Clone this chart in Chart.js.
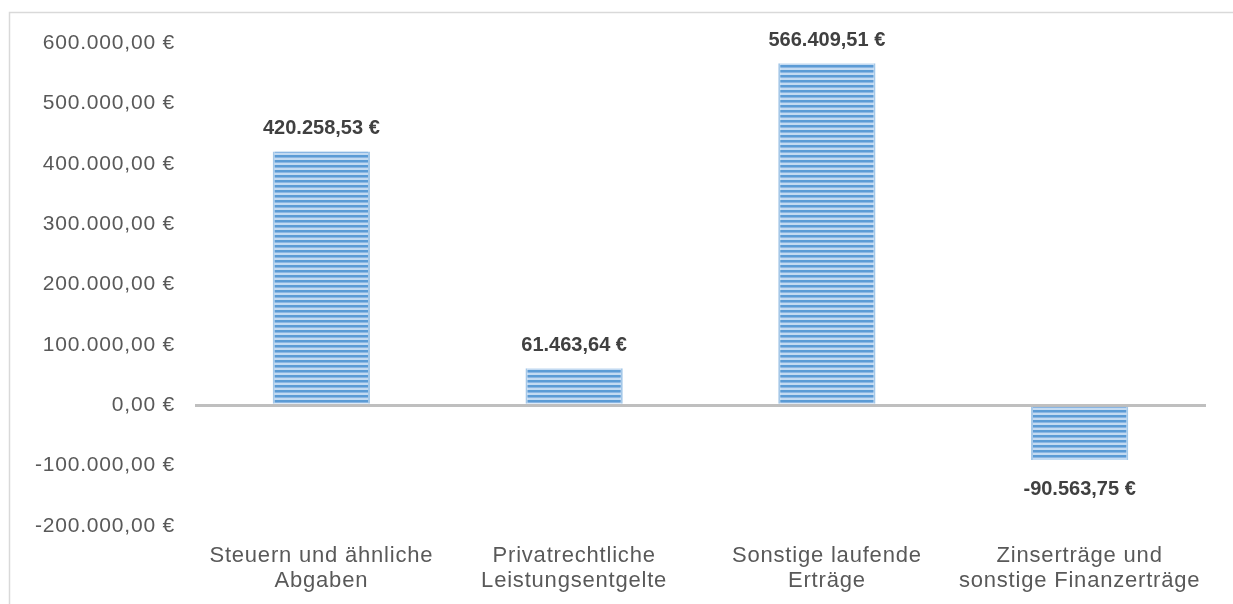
<!DOCTYPE html>
<html>
<head>
<meta charset="utf-8">
<script src="https://cdn.jsdelivr.net/npm/chart.js@4.4.0/dist/chart.umd.min.js"></script>
<style>
  body { margin: 0; background: #fff; }
  canvas { display: block; }
</style>
</head>
<body>
<canvas id="ertraegeChart" width="1233" height="604"></canvas>
<script>
"use strict";
var categories = [
  ["Steuern und ähnliche", "Abgaben"],
  ["Privatrechtliche", "Leistungsentgelte"],
  ["Sonstige laufende", "Erträge"],
  ["Zinserträge und", "sonstige Finanzerträge"]
];
var amounts = [420258.53, 61463.64, 566409.51, -90563.75];
var yMin = -200000, yMax = 600000, yStep = 100000;

function euro(v) {
  var neg = v < 0;
  var parts = Math.abs(v).toFixed(2).split(".");
  var whole = parts[0].replace(/\B(?=(\d{3})+(?!\d))/g, ".");
  return (neg ? "-" : "") + whole + "," + parts[1] + " €";
}

function stripePattern(ctx) {
  var c = document.createElement("canvas");
  c.width = 8; c.height = 5;
  var p = c.getContext("2d");
  p.fillStyle = "#c3daf1";
  p.fillRect(0, 0, 8, 5);
  p.fillStyle = "#5b9bd5";
  p.fillRect(0, 0, 8, 2);
  p.fillStyle = "#8ab6e3";
  p.fillRect(0, 2, 8, 1);
  return ctx.createPattern(c, "repeat");
}

// slightly wider spacing of the regular text, as in the original
var spacing = {
  id: "spacing",
  beforeLayout: function(chart) { chart.ctx.letterSpacing = "0.8px"; },
  beforeDraw: function(chart) { chart.ctx.letterSpacing = "0.8px"; }
};

var frame = {
  id: "frame",
  beforeDraw: function(chart) {
    var c = chart.ctx;
    c.save();
    c.strokeStyle = "#d9d9d9";
    c.lineWidth = 1.5;
    c.beginPath();
    c.moveTo(9.5, chart.height);
    c.lineTo(9.5, 12.5);
    c.lineTo(chart.width, 12.5);
    c.stroke();
    c.restore();
  }
};

var valueLabels = {
  id: "valueLabels",
  afterDatasetsDraw: function(chart) {
    var c = chart.ctx;
    var meta = chart.getDatasetMeta(0);
    c.save();
    c.letterSpacing = "0px";
    c.font = "bold 20px 'Liberation Sans', Arial, sans-serif";
    c.fillStyle = "#404040";
    c.textAlign = "center";
    c.textBaseline = "middle";
    meta.data.forEach(function(bar, i) {
      var v = amounts[i];
      var y = v >= 0 ? bar.y - 23 : bar.y + 30;
      c.fillText(euro(v), bar.x, y);
    });
    c.restore();
  }
};

var canvas = document.getElementById("ertraegeChart");
var ctx = canvas.getContext("2d");

new Chart(ctx, {
  type: "bar",
  data: {
    labels: categories,
    datasets: [{
      data: amounts,
      backgroundColor: stripePattern(ctx),
      borderColor: "rgba(91,155,213,0.55)",
      borderWidth: { left: 2, right: 2, top: 0, bottom: 0 },
      borderSkipped: false,
      barPercentage: 0.385,
      categoryPercentage: 1
    }]
  },
  options: {
    responsive: false,
    animation: false,
    layout: { padding: { top: 43, right: 27, left: 0, bottom: 0 } },
    plugins: { legend: { display: false }, tooltip: { enabled: false } },
    scales: {
      x: {
        grid: { display: false },
        border: { display: false },
        ticks: {
          color: "#595959",
          font: { family: "'Liberation Sans', Arial, sans-serif", size: 22, lineHeight: 1.136 },
          padding: 9,
          maxRotation: 0,
          autoSkip: false
        },
        afterFit: function(scale) { scale.height = 78; }
      },
      y: {
        min: yMin,
        max: yMax,
        border: { display: false },
        grid: {
          drawTicks: false,
          color: function(c) { return c.tick && c.tick.value === 0 ? "#bfbfbf" : "rgba(0,0,0,0)"; },
          lineWidth: function(c) { return c.tick && c.tick.value === 0 ? 3 : 0; }
        },
        ticks: {
          stepSize: yStep,
          color: "#595959",
          padding: 20,
          font: { family: "'Liberation Sans', Arial, sans-serif", size: 21 },
          callback: function(v) { return euro(v); }
        },
        afterFit: function(scale) { scale.width = 195; }
      }
    }
  },
  plugins: [spacing, frame, valueLabels]
});
</script>
</body>
</html>
